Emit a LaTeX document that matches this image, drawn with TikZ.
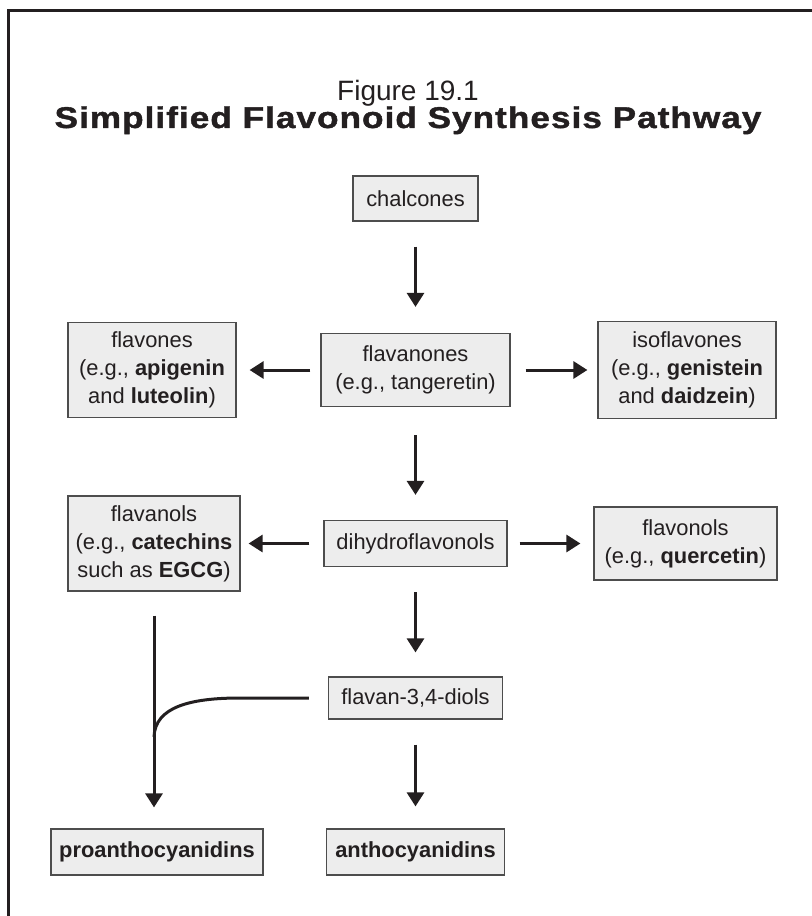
\documentclass[tikz,border=0pt]{standalone}
\usepackage{fontspec}
\setmainfont{Liberation Sans}
\newfontfamily\headfont{Liberation Sans Bold}[FakeBold=1.3, LetterSpace=3]
\usepackage{graphicx}
\usetikzlibrary{arrows.meta}
\definecolor{boxfill}{HTML}{EDEDED}
\definecolor{boxline}{HTML}{4D4D4D}
\definecolor{ink}{HTML}{231F20}
\tikzset{
    stage/.style={
        draw=boxline, fill=boxfill, line width=0.9pt, % thin grey frame
        inner sep=0pt, align=center, text=ink,
        font=\fontsize{16.4}{21}\selectfont
    },
    flow/.style={
        draw=ink, line width=2.25pt,
        -{Triangle[length=10.5pt,width=12.75pt]}
    },
    link/.style={draw=ink, line width=2.25pt}
}

\begin{document}
\begin{tikzpicture}[x=0.75pt, y=-0.75pt]
\useasboundingbox (0,0) rectangle (812,916);
\draw[ink, line width=2.25pt] (8,916) -- (8,11) -- (812,11);
\node[anchor=base, text=ink, font=\fontsize{21}{21}\selectfont] (fignum) at (408,101) {Figure 19.1};
\node[anchor=base, text=ink, font=\fontsize{22.5}{22.5}\headfont] (heading) at (408,128) {\scalebox{1.17}[1]{Simplified Flavonoid Synthesis Pathway}};
\node[stage, minimum width=93.75pt, minimum height=33.75pt] (chalc) at (415.5,198.5) {chalcones};
\node[stage, minimum width=141.75pt, minimum height=54.75pt] (flavanone) at (415.5,370) {flavanones\\(e.g., tangeretin)};
\node[stage, minimum width=126pt, minimum height=71.25pt] (flavone) at (152,370) {flavones\\(e.g., \textbf{apigenin}\\and \textbf{luteolin})};
\node[stage, minimum width=133.5pt, minimum height=72.75pt] (isoflav) at (687,370) {isoflavones\\(e.g., \textbf{genistein}\\and \textbf{daidzein})};
\node[stage, minimum width=137.25pt, minimum height=34.5pt] (dihydro) at (415.5,543.5) {dihydroflavonols};
\node[stage, minimum width=129pt, minimum height=71.25pt] (flavanol) at (154,543.5) {flavanols\\(e.g., \textbf{catechins}\\such as \textbf{EGCG})};
\node[stage, minimum width=137.25pt, minimum height=54.75pt] (flavonol) at (685.5,543.5) {flavonols\\(e.g., \textbf{quercetin})};
\node[stage, minimum width=130.5pt, minimum height=31.5pt] (flavan) at (415.5,698) {flavan-3,4-diols};
\node[stage, minimum width=159pt, minimum height=34.5pt] (proantho) at (157,852) {\textbf{proanthocyanidins}};
\node[stage, minimum width=133.5pt, minimum height=34.5pt] (antho) at (415.5,852) {\textbf{anthocyanidins}};
\coordinate (bend) at (240,698);
\coordinate (merge) at (154,737);
\draw[flow, shorten <=18.75pt, shorten >=19.5pt] (chalc) -- (flavanone);
\draw[flow, shorten <=7.5pt, shorten >=9.75pt] (flavanone) -- (flavone);
\draw[flow, shorten <=11.25pt, shorten >=7.5pt] (flavanone) -- (isoflav);
\draw[flow, shorten <=21pt, shorten >=18.75pt] (flavanone) -- (dihydro);
\draw[flow, shorten <=10.5pt, shorten >=6pt] (dihydro) -- (flavanol);
\draw[flow, shorten <=9pt, shorten >=9.75pt] (dihydro) -- (flavonol);
\draw[flow, shorten <=18.75pt, shorten >=18pt] (dihydro) -- (flavan);
\draw[flow, shorten <=18.75pt, shorten >=16.5pt] (flavan) -- (antho);
\draw[flow, shorten <=18pt, shorten >=15.75pt] (flavanol) -- (flavanol |- proantho.north);
\draw[link, shorten <=14.25pt] (flavan.west) -- (bend) .. controls +(-50,0) and +(1,-30) .. (merge);
\end{tikzpicture}
\end{document}
